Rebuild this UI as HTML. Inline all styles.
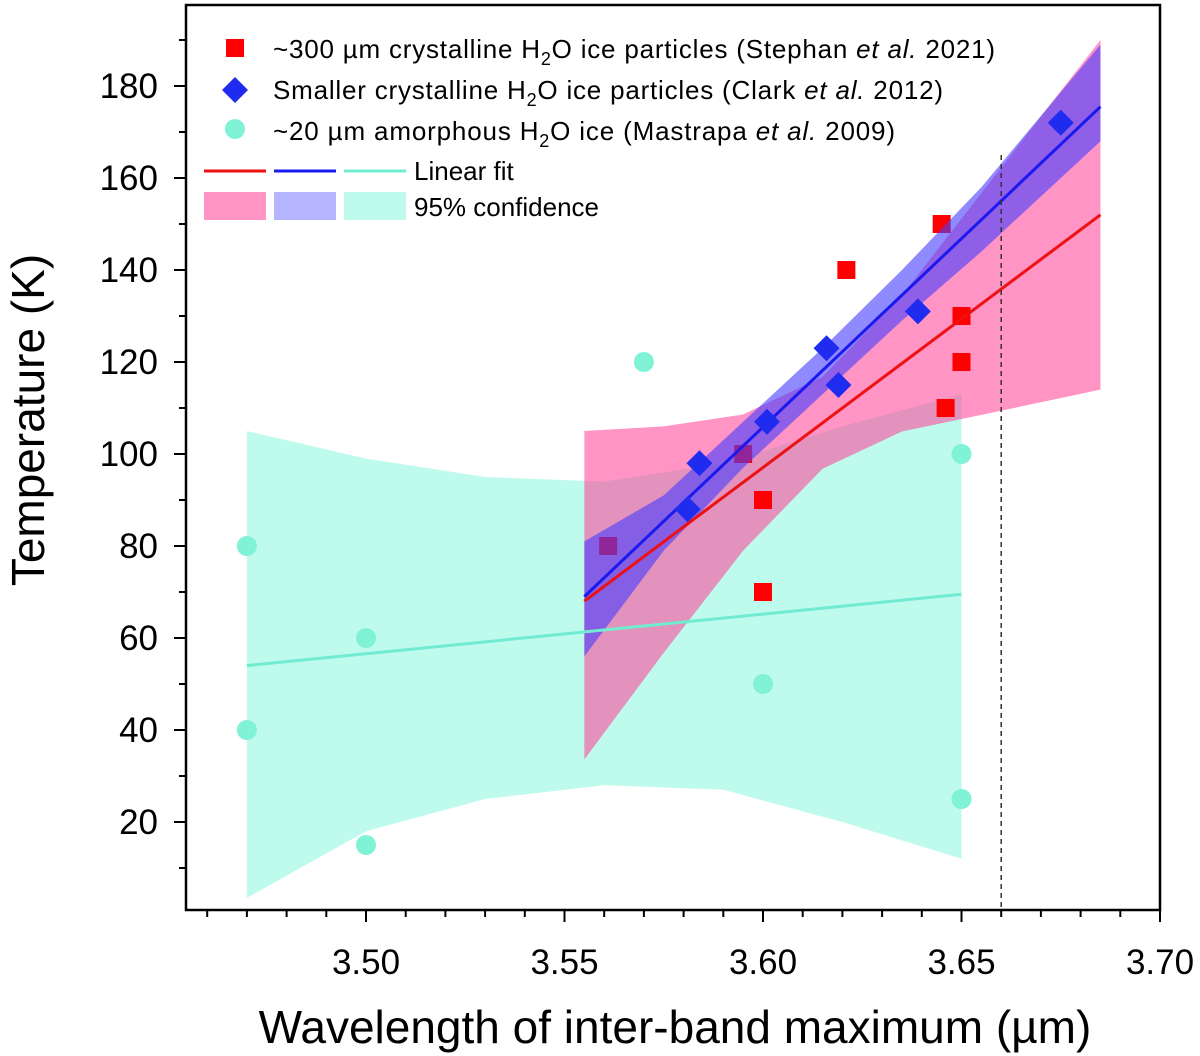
<!DOCTYPE html>
<html><head><meta charset="utf-8"><style>
body{margin:0;background:#fff;}
svg{display:block;font-family:"Liberation Sans",Arial,sans-serif;}
</style></head><body>
<svg id="chart" width="1200" height="1056" viewBox="0 0 1200 1056"></svg>
<script>
const redX=[3.561,3.595,3.600,3.600,3.621,3.645,3.650,3.650,3.646];
const redY=[80,100,90,70,140,150,130,120,110];
const blueX=[3.581,3.584,3.601,3.616,3.619,3.639,3.675];
const blueY=[88,98,107,123,115,131,172];
const cyanX=[3.470,3.470,3.500,3.500,3.570,3.600,3.650,3.650];
const cyanY=[80,40,60,15,120,50,100,25];
const redFit=[[3.555,68],[3.685,152]];
const blueFit=[[3.555,69],[3.685,175.5]];
const cyanFit=[[3.47,54],[3.65,69.5]];
const redBandX=[3.555,3.575,3.595,3.615,3.635,3.655,3.685];
const redBandLo=[33.6,56.8,79,96.8,104.9,108.5,114];
const redBandHi=[105,106,108.6,116.8,134.5,156.7,190];
const blueBandX=[3.555,3.575,3.595,3.615,3.635,3.655,3.685];
const blueBandLo=[56,79,97,113,129,144,168];
const blueBandHi=[81,91,107,123,140,158,189];
const cyanBandX=[3.47,3.50,3.53,3.56,3.59,3.62,3.65];
const cyanBandLo=[3.5,18,25,28,27,20,12];
const cyanBandHi=[105,99,95,94,98,106,113];
const xTicks=[3.50,3.55,3.60,3.65,3.70];
const xTickLabels=["3.50","3.55","3.60","3.65","3.70"];
const yTicks=[20,40,60,80,100,120,140,160,180];
const dashX=3.66;

const L=186,R=1160,T=5,B=910;
const X=v=>366+(v-3.5)*3970;
const Y=v=>822-(v-20)*4.6;
const svg=document.getElementById('chart');
const NS='http://www.w3.org/2000/svg';
function mk(tag,attrs,parent){const e=document.createElementNS(NS,tag);for(const k in attrs)e.setAttribute(k,attrs[k]);(parent||svg).appendChild(e);return e;}

function band(xs,lo,hi,fill,name){
  let d='M'+xs.map((x,i)=>X(x)+','+Y(hi[i])).join(' L');
  for(let i=xs.length-1;i>=0;i--)d+=' L'+X(xs[i])+','+Y(lo[i]);
  const p=mk('path',{d:d+'Z',fill:fill});
  
  
}
band(cyanBandX,cyanBandLo,cyanBandHi,'rgba(128,248,220,0.5)','cyan-confidence-band');

cyanX.forEach((x,i)=>{const c=mk('circle',{cx:X(x),cy:Y(cyanY[i]),r:10,fill:'#80f2d6'});

});

band(redBandX,redBandLo,redBandHi,'rgba(255,60,150,0.55)','red-confidence-band');

redX.forEach((x,i)=>{const s=mk('rect',{x:X(x)-9,y:Y(redY[i])-9,width:18,height:18,fill:'#ff0000'});

});

band(blueBandX,blueBandLo,blueBandHi,'rgba(70,60,255,0.6)','blue-confidence-band');

function line(f,col,name){const l=mk('line',{x1:X(f[0][0]),y1:Y(f[0][1]),x2:X(f[1][0]),y2:Y(f[1][1]),stroke:col,'stroke-width':3});

}
line(cyanFit,'#70ecd0','cyan-linear-fit');
line(redFit,'#ee1111','red-linear-fit');
line(blueFit,'#1a1aee','blue-linear-fit');

blueX.forEach((x,i)=>{const cx=X(x),cy=Y(blueY[i]);const p=mk('polygon',{points:`${cx},${cy-13} ${cx+13},${cy} ${cx},${cy+13} ${cx-13},${cy}`,fill:'#1f2cf0'});

});

const dl=mk('line',{x1:X(dashX),y1:155,x2:X(dashX),y2:B,stroke:'#333','stroke-width':1.5,'stroke-dasharray':'5,4'});



const fr=mk('rect',{x:L,y:T,width:R-L,height:B-T,fill:'none',stroke:'#000','stroke-width':2.5});



for(let v=3.46;v<=3.7001;v+=0.01){const x=X(v);const r=Math.round(v*100)%5;const major=r===0;
mk('line',{x1:x,y1:B,x2:x,y2:B+(major?12:7),stroke:'#000','stroke-width':2});}
xTicks.forEach((v,i)=>{const t=mk('text',{x:X(v),y:974,'text-anchor':'middle','font-size':35});t.textContent=xTickLabels[i];

});
for(let v=10;v<=190;v+=10){const y=Y(v);mk('line',{x1:L,y1:y,x2:L-(v%20===0?12:7),y2:y,stroke:'#000','stroke-width':2});}
yTicks.forEach(v=>{const t=mk('text',{x:158,y:Y(v)+12,'text-anchor':'end','font-size':35});t.textContent=v;

});

const xt=mk('text',{x:675,y:1043,'text-anchor':'middle','font-size':46});xt.textContent='Wavelength of inter-band maximum (µm)';


const yt=mk('text',{x:0,y:0,'text-anchor':'middle','font-size':46,transform:'translate(44,420) rotate(-90)'});yt.textContent='Temperature (K)';


</script>
<div style="position:absolute;left:0;top:0;width:0;height:0;">
<svg width="1200" height="240" style="position:absolute;left:0;top:0;font-family:'Liberation Sans',Arial,sans-serif;font-size:26px;">
<rect x="226" y="39" width="18" height="18" fill="#ff0000"/>
<text x="273" y="58" textLength="722">~300 µm crystalline H<tspan font-size="18" dy="7">2</tspan><tspan dy="-7">O ice particles (Stephan </tspan><tspan font-style="italic">et al.</tspan> 2021)</text>
<polygon points="235,77 248,90 235,103 222,90" fill="#1f2cf0"/>
<text x="273" y="99" textLength="670">Smaller crystalline H<tspan font-size="18" dy="7">2</tspan><tspan dy="-7">O ice particles (Clark </tspan><tspan font-style="italic">et al.</tspan> 2012)</text>
<circle cx="235" cy="129" r="10" fill="#80f2d6"/>
<text x="273" y="140" textLength="622">~20 µm amorphous H<tspan font-size="18" dy="7">2</tspan><tspan dy="-7">O ice (Mastrapa </tspan><tspan font-style="italic">et al.</tspan> 2009)</text>
<line x1="204" y1="171" x2="266" y2="171" stroke="#ee1111" stroke-width="3"/>
<line x1="274" y1="171" x2="336" y2="171" stroke="#1a1aee" stroke-width="3"/>
<line x1="344" y1="171" x2="406" y2="171" stroke="#70ecd0" stroke-width="3"/>
<text x="414" y="180">Linear fit</text>
<rect x="204" y="192" width="62" height="28" fill="rgba(255,60,150,0.55)"/>
<rect x="274" y="192" width="62" height="28" fill="rgba(90,90,255,0.45)"/>
<rect x="344" y="192" width="62" height="28" fill="rgba(128,248,220,0.5)"/>
<text x="414" y="216">95% confidence</text>
</svg></div>
</body></html>
